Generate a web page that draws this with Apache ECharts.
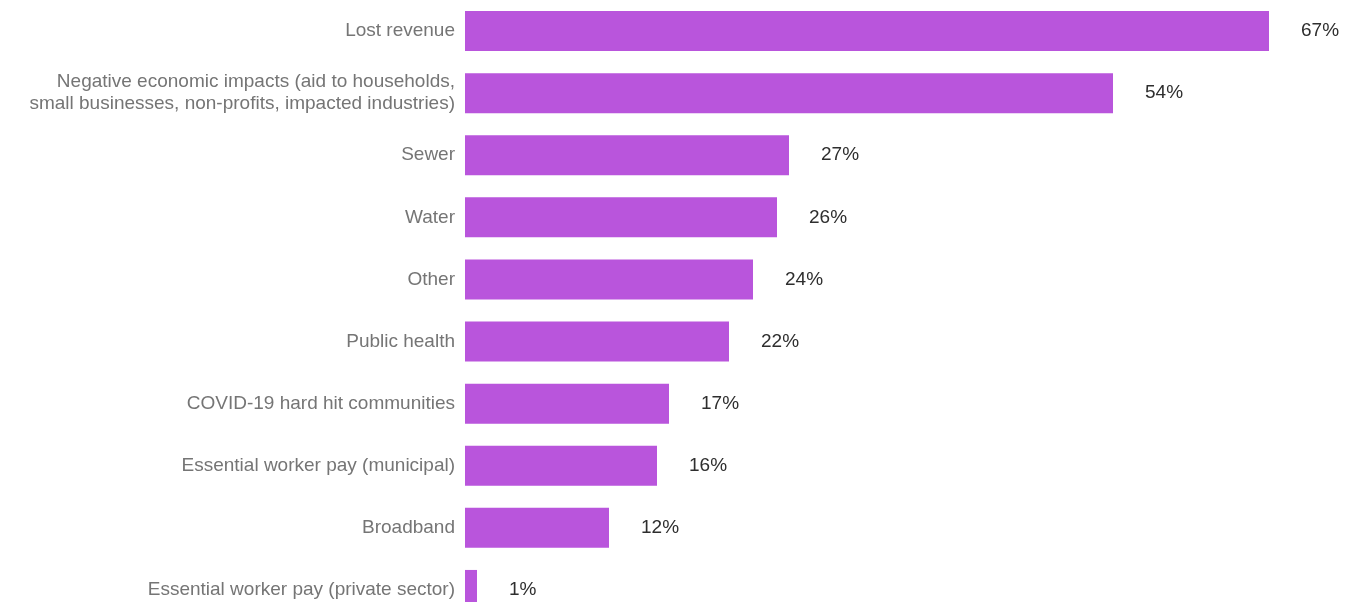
<!DOCTYPE html>
<html>
<head>
<meta charset="utf-8">
<script src="https://cdn.jsdelivr.net/npm/echarts@6/dist/echarts.min.js"></script>
<style>
html,body{margin:0;padding:0;background:#fff;overflow:hidden;}
#chart{width:1346px;height:621px;}
</style>
</head>
<body>
<div id="chart"></div>
<script>
var categories = [
  "Lost revenue",
  "Negative economic impacts (aid to households,\nsmall businesses, non-profits, impacted industries)",
  "Sewer",
  "Water",
  "Other",
  "Public health",
  "COVID-19 hard hit communities",
  "Essential worker pay (municipal)",
  "Broadband",
  "Essential worker pay (private sector)"
];
var values = [67, 54, 27, 26, 24, 22, 17, 16, 12, 1];

var chart = echarts.init(document.getElementById('chart'));
chart.setOption({
  animation: false,
  grid: {left: 465, right: 41, top: 0, bottom: 0, containLabel: false},
  xAxis: {
    type: 'value', min: 0, max: 70, show: false
  },
  yAxis: {
    type: 'category',
    inverse: true,
    data: categories,
    axisLine: {show: false},
    axisTick: {show: false},
    axisLabel: {
      margin: 10,
      fontFamily: 'Liberation Sans, Arial, sans-serif',
      fontSize: 19,
      color: '#757575',
      lineHeight: 22,
      align: 'right'
    }
  },
  series: [{
    type: 'bar',
    data: values,
    barWidth: 40,
    itemStyle: {color: '#b955dc'},
    label: {
      show: true,
      position: 'right',
      distance: 32,
      formatter: '{c}%',
      fontFamily: 'Liberation Sans, Arial, sans-serif',
      fontSize: 19,
      color: '#2e2e2e'
    }
  }]
});
</script>
</body>
</html>
